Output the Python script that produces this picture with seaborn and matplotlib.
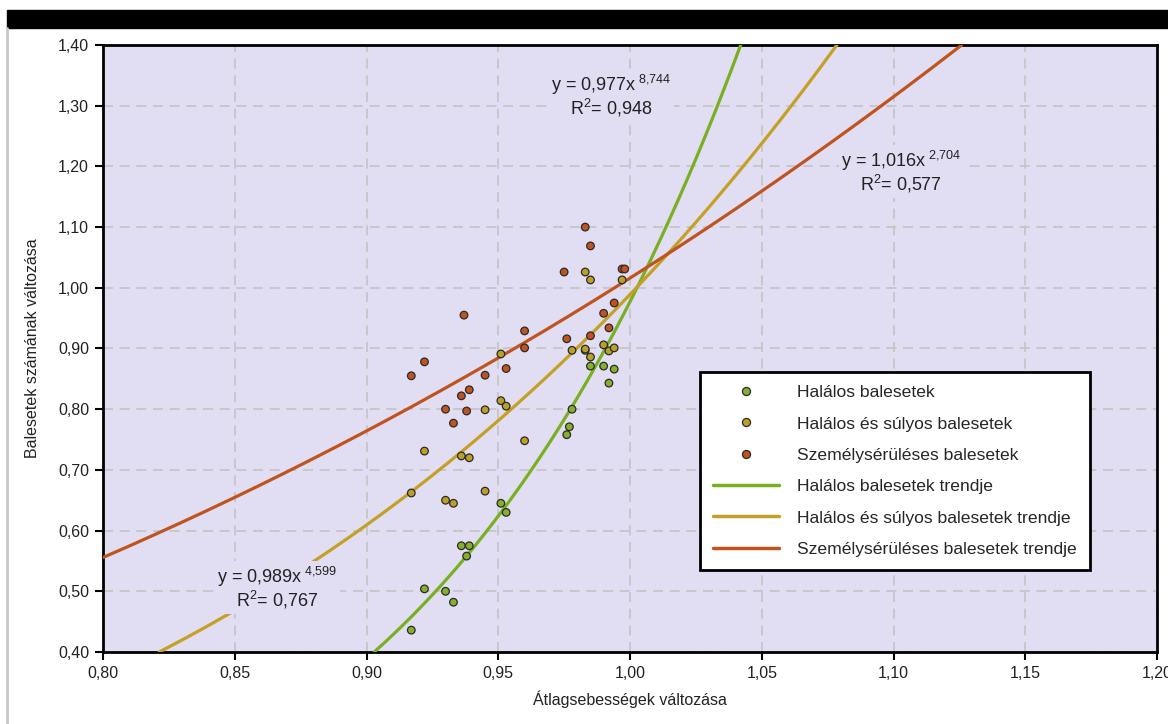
# Sebesség és baleseti számok változása - hatványfüggvény trendekkel
import numpy as np
import pandas as pd
import matplotlib
matplotlib.use("Agg")
import matplotlib.pyplot as plt
import seaborn as sns
from matplotlib.patches import Rectangle
from matplotlib.lines import Line2D
from matplotlib.ticker import FuncFormatter, MultipleLocator

sns.set_theme(style="white")
plt.rcParams["font.family"] = ["Liberation Sans", "DejaVu Sans"]
plt.rcParams["mathtext.fontset"] = "custom"
plt.rcParams["mathtext.rm"] = "Liberation Sans"
plt.rcParams["mathtext.it"] = "Liberation Sans"

# ----------------------------
# Adatok (leolvasva az ábráról)
# ----------------------------
series_names = ["Halálos balesetek", "Halálos és súlyos balesetek", "Személysérüléses balesetek"]

halalos_x = [0.917, 0.922, 0.930, 0.933, 0.936, 0.938, 0.939, 0.951, 0.953, 0.976,
             0.977, 0.978, 0.985, 0.990, 0.992, 0.994, 0.983]
halalos_y = [0.436, 0.504, 0.500, 0.482, 0.575, 0.558, 0.575, 0.645, 0.630, 0.758,
             0.771, 0.800, 0.871, 0.871, 0.843, 0.866, 0.897]

sulyos_x = [0.917, 0.922, 0.930, 0.933, 0.936, 0.939, 0.945, 0.945, 0.951, 0.951, 0.953,
            0.960, 0.978, 0.983, 0.983, 0.985, 0.985, 0.990, 0.992, 0.994, 0.997]
sulyos_y = [0.662, 0.731, 0.650, 0.645, 0.723, 0.720, 0.665, 0.799, 0.814, 0.891, 0.805,
            0.748, 0.897, 0.899, 1.026, 0.886, 1.013, 0.906, 0.896, 0.901, 1.013]

szemely_x = [0.917, 0.922, 0.930, 0.933, 0.936, 0.937, 0.938, 0.939, 0.945, 0.953, 0.960,
             0.960, 0.975, 0.976, 0.983, 0.985, 0.985, 0.990, 0.992, 0.994, 0.997, 0.998]
szemely_y = [0.855, 0.878, 0.800, 0.777, 0.822, 0.955, 0.797, 0.832, 0.856, 0.867, 0.901,
             0.929, 1.026, 0.916, 1.100, 1.069, 0.921, 0.958, 0.934, 0.975, 1.031, 1.031]

# trend: y = a * x^b
trend_a = [0.977, 0.989, 1.016]
trend_b = [8.744, 4.599, 2.704]
trend_r2 = ["0,948", "0,767", "0,577"]
trend_names = ["Halálos balesetek trendje", "Halálos és súlyos balesetek trendje",
               "Személysérüléses balesetek trendje"]

point_colors = ["#84b02c", "#bc9f27", "#c0531f"]
line_colors = ["#78b022", "#c4a026", "#c0541e"]

df = pd.concat([
    pd.DataFrame({"x": halalos_x, "y": halalos_y, "sorozat": series_names[0]}),
    pd.DataFrame({"x": sulyos_x, "y": sulyos_y, "sorozat": series_names[1]}),
    pd.DataFrame({"x": szemely_x, "y": szemely_y, "sorozat": series_names[2]}),
])

# ----------------------------
# Ábra
# ----------------------------
fig = plt.figure(figsize=(11.68, 7.24), dpi=100)
ax = fig.add_axes([103 / 1168, 1 - 652 / 724, 1054 / 1168, 607 / 724])
ax.set_facecolor("#e1def3")

# fejléc sáv és bal szegély
fig.patches.append(Rectangle((7 / 1168, 1 - 28 / 724), 1, 18 / 724,
                             transform=fig.transFigure, color="black", zorder=0))
fig.lines.append(Line2D([7 / 1168, 7 / 1168], [0, 1 - 28 / 724],
                        transform=fig.transFigure, color="#c8c8c8", lw=2))

xmin, xmax, ymin, ymax = 0.80, 1.20, 0.40, 1.40

# trendvonalak
for a, b, c in zip(trend_a, trend_b, line_colors):
    lo = max(xmin, (ymin / a) ** (1 / b))
    hi = min(xmax, (ymax / a) ** (1 / b))
    xs = np.linspace(lo, hi, 200)
    sns.lineplot(x=xs, y=a * xs ** b, ax=ax, color=c, lw=2.3, zorder=3)

sns.scatterplot(data=df, x="x", y="y", hue="sorozat", palette=point_colors,
                s=30, edgecolor="#2a2a2a", linewidth=0.9, ax=ax, zorder=4, legend=False)

ax.set_xlim(xmin, xmax)
ax.set_ylim(ymin, ymax)
ax.xaxis.set_major_locator(MultipleLocator(0.05))
ax.yaxis.set_major_locator(MultipleLocator(0.10))
fmt = FuncFormatter(lambda v, p: f"{v:.2f}".replace(".", ","))
ax.xaxis.set_major_formatter(fmt)
ax.yaxis.set_major_formatter(fmt)

ax.grid(True, color="#c4c4c4", linestyle=(0, (6, 4)), lw=1.2)
ax.set_axisbelow(True)
for s in ax.spines.values():
    s.set_color("black")
    s.set_linewidth(2)
ax.tick_params(direction="out", length=6, width=1.5, color="black",
               labelsize=11.5, labelcolor="#222222", pad=4)
ax.tick_params(bottom=True, left=True)

ax.set_xlabel("Átlagsebességek változása", fontsize=11.5, color="#222222")
ax.set_ylabel("Balesetek számának változása", fontsize=11.5, color="#222222")
ax.xaxis.set_label_coords(0.5, -0.063)
ax.yaxis.set_label_coords(-0.06, 0.5)

# egyenletek
label_pos = [(0.993, 1.316), (0.866, 0.505), (1.103, 1.191)]
for (lx, ly), a, b, r2 in zip(label_pos, trend_a, trend_b, trend_r2):
    a_s = f"{a:.3f}".replace(".", ",")
    b_s = f"{b:.3f}".replace(".", "{,}")
    txt = f"y = {a_s}x$^{{\\ {b_s}}}$\nR$^{{2}}$= {r2}"
    ax.text(lx, ly, txt, ha="center", va="center", fontsize=13, color="#222222",
            linespacing=1.0, zorder=5,
            bbox=dict(facecolor="#e1def3", edgecolor="none", pad=2))

# jelmagyarázat
handles = [Line2D([], [], marker="o", ls="none", markersize=5.8, markerfacecolor=c,
                  markeredgecolor="#2a2a2a", markeredgewidth=0.9) for c in point_colors]
handles += [Line2D([], [], color=c, lw=2.5) for c in line_colors]
leg = ax.legend(handles, series_names + trend_names, loc="lower left",
                bbox_to_anchor=(0.566, 0.135), fontsize=12.6, frameon=True,
                fancybox=False, edgecolor="black", facecolor="white", framealpha=1,
                handlelength=3.8, handletextpad=1.0, labelspacing=0.92,
                borderpad=0.75, borderaxespad=0)
leg.get_frame().set_linewidth(2)
leg.set_zorder(6)

fig.savefig("out.png", dpi=100, facecolor="white")
